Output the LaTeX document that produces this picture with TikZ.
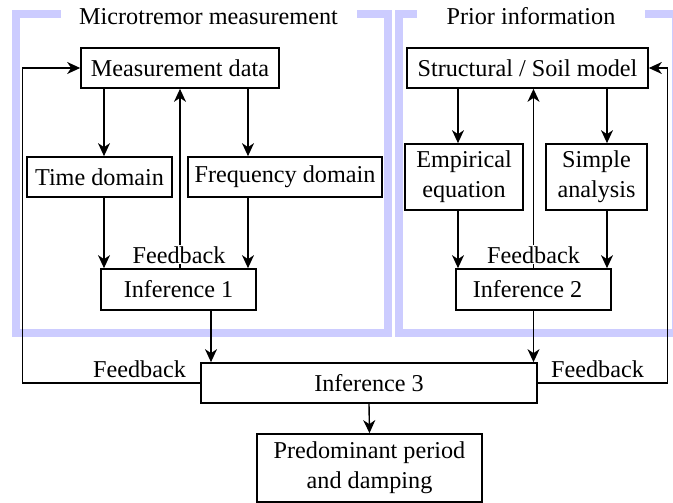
\documentclass[tikz,border=0pt]{standalone}
\usepackage{fontspec}
\setmainfont{Liberation Serif}
\usetikzlibrary{arrows.meta}
\definecolor{framecol}{RGB}{204,204,255}
\begin{document}
\begin{tikzpicture}[x=1pt,y=-1pt,
  every node/.style={font=\fontsize{24.2}{30}\selectfont},
  box/.style={draw,line width=1.7pt,inner sep=0pt,align=center},
  conn/.style={line width=1.4pt,-{Stealth[length=13pt,width=12pt,inset=4pt]}},
  frame/.style={draw=framecol,line width=8pt},
  title/.style={fill=white,inner sep=0pt,minimum height=26pt,anchor=base},
  fb/.style={fill=white,inner sep=1pt,anchor=base}]
\useasboundingbox (0,0) rectangle (673,503);
\clip (0,0) rectangle (673,503);

% group frames
\draw[frame] (16,14) rectangle (387.5,333);
\draw[frame] (398.5,14) rectangle (676,333);
\node[title,minimum width=296pt] (t1) at (208.5,25) {Microtremor measurement};
\node[title,minimum width=228pt] (t2) at (531,25) {Prior information};

% boxes
\node[box,minimum width=198pt,minimum height=40pt] (md) at (180,68) {Measurement data};
\node[box,minimum width=145pt,minimum height=40pt] (td) at (99.5,177) {Time domain};
\node[box,minimum width=194pt,minimum height=40pt] (fd) at (285,177) {Frequency domain};
\node[box,minimum width=155pt,minimum height=41pt] (i1) at (178.5,289.5) {Inference 1};
\node[box,minimum width=241pt,minimum height=40pt] (ss) at (527.5,68) {Structural / Soil model};
\node[box,minimum width=118pt,minimum height=66pt] (ee) at (464,177) {Empirical\\equation};
\node[box,minimum width=101pt,minimum height=66pt] (sa) at (596.5,177) {Simple\\analysis};
\node[box,minimum width=155pt,minimum height=41pt] (i2) at (533.5,289.5) {\hspace*{-12pt}Inference 2};
\node[box,minimum width=336pt,minimum height=40pt] (i3) at (369,383) {Inference 3};
\node[box,minimum width=225pt,minimum height=68pt] (pp) at (369.5,468) {Predominant period\\and damping};

% loop turning points
\coordinate (lc) at (22.7,0);
\coordinate (rc) at (667.5,0);

% microtremor branch
\draw[conn] ([xshift=4.5pt]td.north |- md.south) -- ([xshift=4.5pt]td.north);
\draw[conn] ([xshift=-37pt]fd.north |- md.south) -- ([xshift=-37pt]fd.north);
\draw[conn] ([xshift=4.5pt]td.south) -- ([xshift=4.5pt]td.south |- i1.north);
\draw[conn] ([xshift=-37pt]fd.south) -- ([xshift=-37pt]fd.south |- i1.north);
\draw[conn] (md.south |- i1.north) -- (md.south);

% prior information branch
\draw[conn] ([xshift=-6pt]ee.north |- ss.south) -- ([xshift=-6pt]ee.north);
\draw[conn] ([xshift=10.5pt]sa.north |- ss.south) -- ([xshift=10.5pt]sa.north);
\draw[conn] ([xshift=-6pt]ee.south) -- ([xshift=-6pt]ee.south |- i2.north);
\draw[conn] ([xshift=10.5pt]sa.south) -- ([xshift=10.5pt]sa.south |- i2.north);
\draw[conn] (i2.north) -- (i2.north |- ss.south);

% combination
\draw[conn] ([xshift=32.5pt]i1.south) -- ([xshift=32.5pt]i1.south |- i3.north);
\draw[conn] (i2.south) -- (i2.south |- i3.north);
\draw[conn] (i3.south) -- (pp.north);
\draw[conn] (i3.west) -- (i3.west -| lc) |- (md.west);
\draw[conn] (i3.east) -- (i3.east -| rc) |- (ss.east);

% feedback labels
\node[fb] (fb1) at (179,263) {Feedback};
\node[fb] (fb2) at (533.5,263) {Feedback};
\node[fb] (fb3) at (139.5,377) {Feedback};
\node[fb] (fb4) at (597.5,377) {Feedback};
\end{tikzpicture}
\end{document}
